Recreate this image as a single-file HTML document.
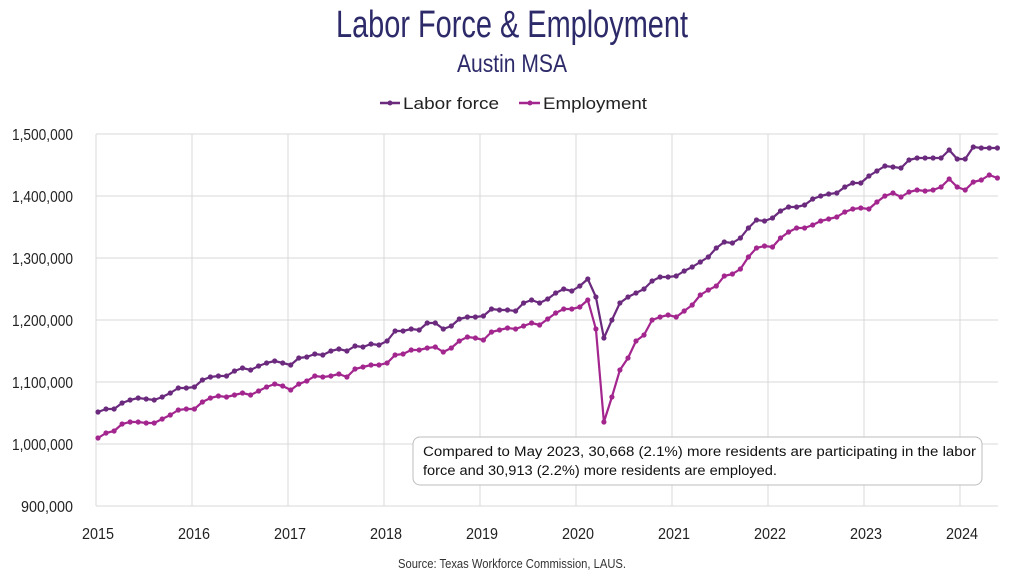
<!DOCTYPE html>
<html><head><meta charset="utf-8"><style>
html,body{margin:0;padding:0;background:#fff;}
svg{display:block;font-family:"Liberation Sans Narrow","Liberation Sans",sans-serif;}
</style></head><body>
<svg id="s" width="1024" height="576" viewBox="0 0 1024 576" xmlns="http://www.w3.org/2000/svg">
<rect width="1024" height="576" fill="#fff"/>
<text x="512" y="37" text-anchor="middle" font-size="38" fill="#2d2a6a" textLength="352" lengthAdjust="spacingAndGlyphs">Labor Force &amp; Employment</text>
<text x="512" y="72" text-anchor="middle" font-size="25" fill="#2d2a6a" textLength="110" lengthAdjust="spacingAndGlyphs">Austin MSA</text>
<g font-family="Liberation Sans, sans-serif" font-size="17" fill="#222">
<line x1="380" y1="103" x2="400" y2="103" stroke="#6b2a7e" stroke-width="2.5"/><circle cx="390" cy="103" r="2.5" fill="#6b2a7e"/>
<text x="403" y="109" textLength="96" lengthAdjust="spacingAndGlyphs">Labor force</text>
<line x1="519" y1="103" x2="540" y2="103" stroke="#a3268f" stroke-width="2.5"/><circle cx="530" cy="103" r="2.5" fill="#a3268f"/>
<text x="543" y="109" textLength="104" lengthAdjust="spacingAndGlyphs">Employment</text>
</g>
<g id="grid" stroke="#d9d9d9" stroke-width="1"></g>
<g id="ylab" font-size="16" fill="#222" text-anchor="end"></g>
<g id="xlab" font-size="16" fill="#222" text-anchor="middle"></g>
<g id="series"></g>
<rect x="413" y="437" width="569" height="48" rx="7" fill="#fff" stroke="#bdbdbd" stroke-width="1"/>
<text x="423" y="456" font-family="Liberation Sans, sans-serif" font-size="13.5" fill="#111" textLength="553" lengthAdjust="spacingAndGlyphs">Compared to May 2023, 30,668 (2.1%) more residents are participating in the labor</text>
<text x="423" y="475" font-family="Liberation Sans, sans-serif" font-size="13.5" fill="#111" textLength="354" lengthAdjust="spacingAndGlyphs">force and 30,913 (2.2%) more residents are employed.</text>
<text x="512" y="568" text-anchor="middle" font-size="13" fill="#333" textLength="228" lengthAdjust="spacingAndGlyphs">Source: Texas Workforce Commission, LAUS.</text>
</svg>
<script>
var NS="http://www.w3.org/2000/svg";
function el(t,a,p,txt){var e=document.createElementNS(NS,t);for(var k in a)e.setAttribute(k,a[k]);if(txt)e.textContent=txt;document.getElementById(p).appendChild(e);return e;}
var labs=["1,500,000","1,400,000","1,300,000","1,200,000","1,100,000","1,000,000","900,000"];
for(var i=0;i<7;i++){var y=134+62*i;el("line",{x1:96,y1:y,x2:998,y2:y},"grid");el("text",{x:73,y:y+6,textLength:(i==6?52:61),lengthAdjust:"spacingAndGlyphs"},"ylab",labs[i]);}
for(var j=0;j<10;j++){var x=96+96*j;el("line",{x1:x,y1:134,x2:x,y2:506},"grid");el("text",{x:x+2,y:539,textLength:32,lengthAdjust:"spacingAndGlyphs"},"xlab",String(2015+j));}
el("line",{x1:96,y1:134,x2:96,y2:506},"grid");
var L=[412,409,409,403,400,398,399,400,397,393,388,388,
387,380,377,376,376,371,368,370,366,363,361,363,
365,358,357,354,355,351,349,351,346,347,344,345,
341,331,331,329,330,323,323,329,326,319,317,317,
316,309,310,310,311,303,300,303,299,293,289,291,
286,279,297,338,320,303,297,293,289,281,277,277,
276,271,267,262,257,248,242,243,238,228,220,221,
218,211,207,207,205,199,196,194,193,187,183,183,
176,171,166,167,168,160,158,158,158,158,150,159,
159,147,148,148,148];
var E=[438,433,431,424,422,422,423,423,419,415,410,409,
409,402,398,396,397,395,393,395,391,387,384,386,
390,384,381,376,377,376,374,377,369,367,365,365,
363,355,354,350,350,348,347,352,348,341,337,338,
340,332,330,328,329,326,323,325,319,313,309,309,
307,300,329,422,397,370,358,341,335,320,317,315,
317,311,305,295,290,286,276,274,269,257,248,246,
247,238,232,228,228,225,221,219,217,212,209,208,
209,202,196,193,197,192,190,191,190,187,179,187,
190,182,180,175,178];
function draw(d,c){var pts=d.map(function(v,i){return (98+8.03*i).toFixed(1)+","+v;}).join(" ");
el("polyline",{points:pts,fill:"none",stroke:c,"stroke-width":2.2,"stroke-linejoin":"round"},"series");
d.forEach(function(v,i){el("circle",{cx:(98+8.03*i).toFixed(1),cy:v,r:2.6,fill:c},"series");});}
draw(L,"#6b2a7e");draw(E,"#a3268f");
</script>
</body></html>
